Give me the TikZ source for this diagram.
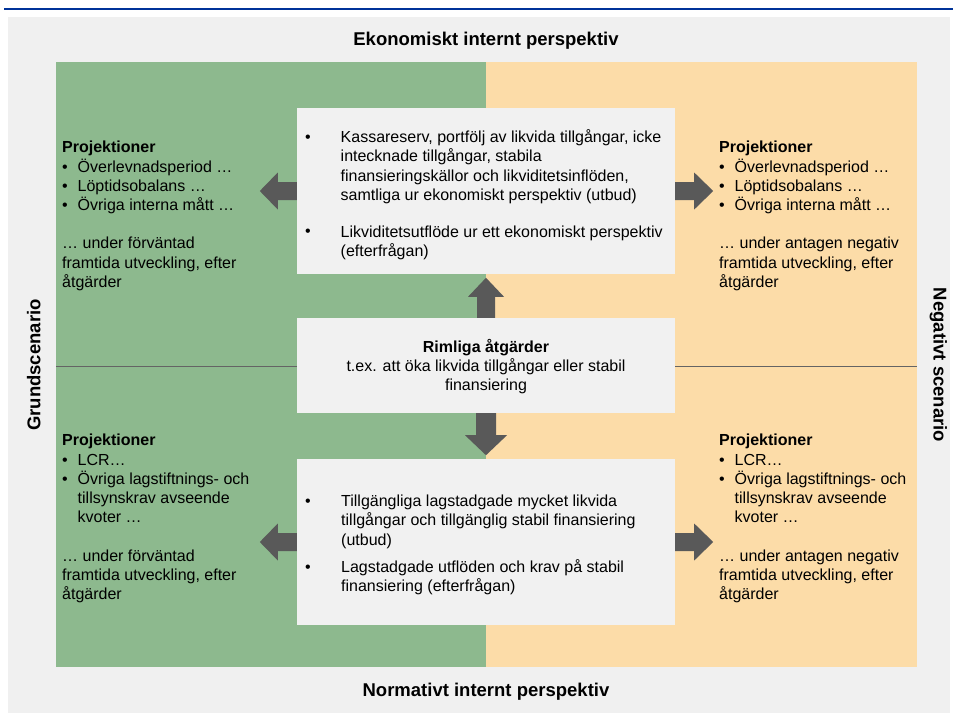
\documentclass[tikz,border=0pt]{standalone}
\usepackage{fontspec}
\setmainfont{Liberation Sans}
\definecolor{bggray}{RGB}{240,240,240}
\definecolor{boxgray}{RGB}{241,241,241}
\definecolor{greenarea}{RGB}{141,185,142}
\definecolor{orangearea}{RGB}{252,220,168}
\definecolor{arrowgray}{RGB}{89,89,89}
\definecolor{linegray}{RGB}{100,100,100}
\definecolor{topblue}{RGB}{0,51,153}
\newcommand\bulitem{\makebox[15.5pt][l]{•}}
\begin{document}
\begin{tikzpicture}[x=1pt,y=-1pt,
  txt/.style={font=\fontsize{16}{19.2}\selectfont, inner sep=0pt, align=left, anchor=north west},
  bul/.style={font=\fontsize{16}{19.2}\selectfont, inner sep=0pt, anchor=base},
  ttl/.style={font=\bfseries\fontsize{18.5}{22}\selectfont, inner sep=0pt, anchor=base},
  cbox/.style={fill=boxgray, draw=none, minimum width=378pt, inner sep=0pt},
  blockarrow/.style={fill=arrowgray, draw=none}]
\useasboundingbox (0,0) rectangle (953,713);
% frame
\draw[topblue, line width=2pt] (4,8.5) -- (953,8.5);
\fill[bggray] (8,17) rectangle (950,713);
\fill[greenarea] (56,62) rectangle (486,667);
\fill[orangearea] (486,62) rectangle (917,667);
\draw[linegray, line width=0.9pt] (56,366) -- (917,366);
% titles
\node[ttl] (ekon) at (486,45) {Ekonomiskt internt perspektiv};
\node[ttl] (norm) at (486,696.5) {Normativt internt perspektiv};
\node[ttl, rotate=90] (grund) at (40.3,365) {Grundscenario};
\node[ttl, rotate=-90] (neg) at (933.5,365) {Negativt scenario};
% central boxes
\node[cbox, minimum height=166pt] (topbox) at (486,191) {};
\node[cbox, minimum height=95pt] (midbox) at (486,365.5) {};
\node[cbox, minimum height=166pt] (botbox) at (486,542) {};
% block arrows
\fill[blockarrow, shift={(topbox.west)}] (0,-9) -- (-19,-9) -- (-19,-18.5) -- (-37,0) -- (-19,18.5) -- (-19,9) -- (0,9) -- cycle;
\fill[blockarrow, shift={(topbox.east)}] (0,-9) -- (19,-9) -- (19,-18.5) -- (38,0) -- (19,18.5) -- (19,9) -- (0,9) -- cycle;
\fill[blockarrow, shift={(botbox.west)}] (0,-9) -- (-19,-9) -- (-19,-18.5) -- (-37,0) -- (-19,18.5) -- (-19,9) -- (0,9) -- cycle;
\fill[blockarrow, shift={(botbox.east)}] (0,-9) -- (19,-9) -- (19,-18.5) -- (38,0) -- (19,18.5) -- (19,9) -- (0,9) -- cycle;
\fill[blockarrow, shift={(midbox.north)}] (-9,0) -- (-9,-21) -- (-18,-21) -- (0,-40) -- (18,-21) -- (9,-21) -- (9,0) -- cycle;
\fill[blockarrow, shift={(midbox.south)}] (-10,0) -- (-10,22) -- (-21,22) -- (0,42) -- (21,22) -- (10,22) -- (10,0) -- cycle;
% top box text
\node[bul] (tb1) at (308,142.5) {•};
\node[bul] (tb2) at (308,236.9) {•};
\node[txt] (toptxt) at (340.5,126.5) {\rule{0pt}{16pt}Kassareserv, portfölj av likvida tillgångar, icke\\
intecknade tillgångar, stabila\\
finansieringskällor och likviditetsinflöden,\\
samtliga ur ekonomiskt perspektiv (utbud)\\[17.6pt]
Likviditetsutflöde ur ett ekonomiskt perspektiv\\
(efterfrågan)};
% middle box text
\node[txt, align=center, anchor=north] (midtxt) at (486,336) {\rule{0pt}{16pt}\textbf{Rimliga åtgärder}\\
t.ex. att öka likvida tillgångar eller stabil\\
finansiering};
% bottom box text
\node[bul] (bb1) at (308,506.5) {•};
\node[bul] (bb2) at (308,572.1) {•};
\node[txt] (bottxt) at (341,490.5) {\rule{0pt}{16pt}Tillgängliga lagstadgade mycket likvida\\
tillgångar och tillgänglig stabil finansiering\\
(utbud)\\[8.1pt]
Lagstadgade utflöden och krav på stabil\\
finansiering (efterfrågan)};
% left texts
\node[txt] (lt) at (62,136.7) {\rule{0pt}{16pt}\textbf{Projektioner}\\
\bulitem Överlevnadsperiod …\\
\bulitem Löptidsobalans …\\
\bulitem Övriga interna mått …\\[19.2pt]
… under förväntad\\
framtida utveckling, efter\\
åtgärder};
\node[txt] (lb) at (62,429.7) {\rule{0pt}{16pt}\textbf{Projektioner}\\
\bulitem LCR…\\
\bulitem Övriga lagstiftnings- och\\
\hspace*{15.5pt}tillsynskrav avseende\\
\hspace*{15.5pt}kvoter …\\[19.2pt]
… under förväntad\\
framtida utveckling, efter\\
åtgärder};
% right texts
\node[txt] (rt) at (719,136.7) {\rule{0pt}{16pt}\textbf{Projektioner}\\
\bulitem Överlevnadsperiod …\\
\bulitem Löptidsobalans …\\
\bulitem Övriga interna mått …\\[19.2pt]
… under antagen negativ\\
framtida utveckling, efter\\
åtgärder};
\node[txt] (rb) at (719,429.7) {\rule{0pt}{16pt}\textbf{Projektioner}\\
\bulitem LCR…\\
\bulitem Övriga lagstiftnings- och\\
\hspace*{15.5pt}tillsynskrav avseende\\
\hspace*{15.5pt}kvoter …\\[19.2pt]
… under antagen negativ\\
framtida utveckling, efter\\
åtgärder};
\end{tikzpicture}
\end{document}
